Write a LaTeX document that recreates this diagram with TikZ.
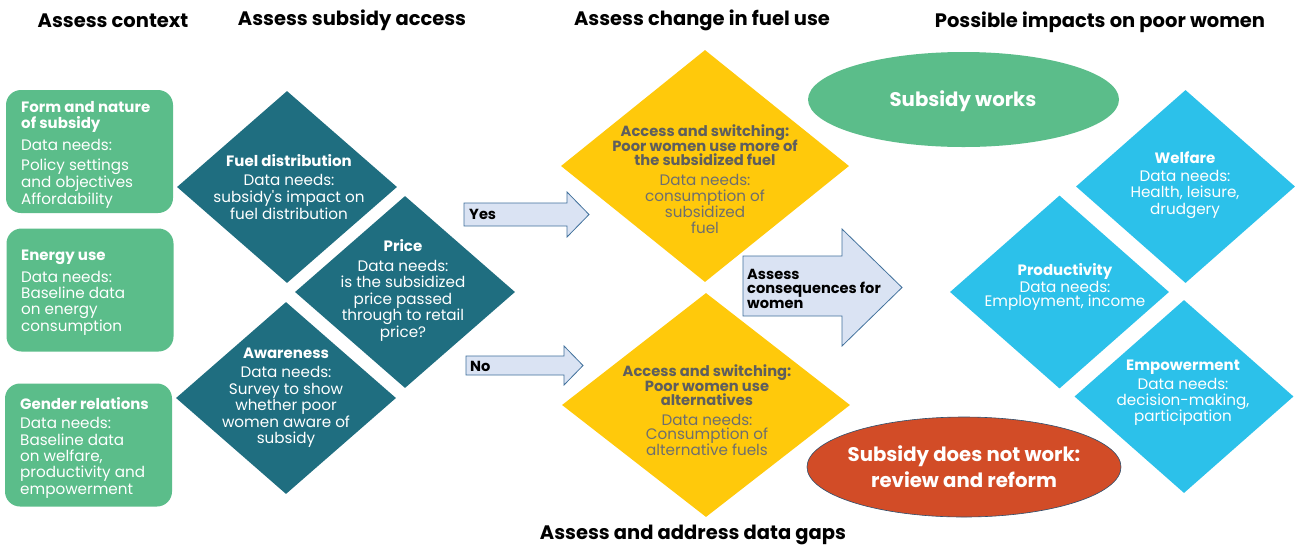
\documentclass[tikz,border=0pt]{standalone}
\usepackage{fontspec}
\setmainfont{Poppins}[Ligatures=TeXOff]
\usetikzlibrary{shapes.geometric}
\definecolor{ctxgreen}{HTML}{5BBD8A}
\definecolor{accteal}{HTML}{1F6E80}
\definecolor{fuelyellow}{HTML}{FFC90B}
\definecolor{impactblue}{HTML}{2CC1EA}
\definecolor{failred}{HTML}{D24C27}
\definecolor{arrowfill}{HTML}{DAE3F3}
\definecolor{arrowline}{HTML}{41719C}
\definecolor{darkgrey}{HTML}{5E5E5E}
\definecolor{midgrey}{HTML}{6E6E6E}
\tikzset{
  heading/.style={font=\bfseries\fontsize{19.5}{22}\selectfont, text=black, inner sep=0},
  ctxbox/.style={fill=ctxgreen, rounded corners=15pt, minimum width=167pt, minimum height=123pt, inner sep=0},
  ctxtext/.style={anchor=west, align=left, text=white, inner sep=0, font=\fontsize{15.2}{17}\selectfont},
  gem/.style={diamond, inner sep=0, minimum width=#1},
  tealgem/.style={gem=220pt, minimum height=192pt, fill=accteal},
  yellowgem/.style={gem=288pt, fill=fuelyellow},
  bluegem/.style={gem=219pt, minimum height=193pt, fill=impactblue},
  gemtext/.style={align=center, inner sep=0, text=white, font=\fontsize{15.2}{16.5}\selectfont},
  fueltext/.style={align=center, inner sep=0, text=midgrey, font=\fontsize{15.2}{16}\selectfont},
  blockarrow/.style={fill=arrowfill, draw=arrowline, line width=0.8pt, line join=miter},
  arrowtext/.style={anchor=west, align=left, inner sep=0, text=black, font=\bfseries\fontsize{14.6}{14.5}\selectfont},
  outcome/.style={ellipse, inner sep=0},
  outcometext/.style={inner sep=0, text=white, align=center, font=\bfseries\fontsize{19.7}{26}\selectfont},
}
\newcommand{\hd}[1]{{\bfseries\fontsize{15}{16.5}\selectfont #1}}
\newcommand{\fuelhd}[1]{{\color{darkgrey}\bfseries\fontsize{14.7}{14.5}\selectfont #1}}
\begin{document}
\begin{tikzpicture}[x=1pt,y=-1pt]
\useasboundingbox (0,0) rectangle (1295,550);
\fill[white] (0,0) rectangle (1295,550);

% column headings
\node[heading] (h1) at (113,21) {Assess context};
\node[heading] (h2) at (352,20) {Assess subsidy access};
\node[heading] (h3) at (702,20) {Assess change in fuel use};
\node[heading] (h4) at (1100,22) {Possible impacts on poor women};
\node[heading] (h5) at (693,535) {Assess and address data gaps};

% context boxes
\node[ctxbox] (c1) at (89.5,151.5) {};
\node[ctxbox] (c2) at (90,290) {};
\node[ctxbox] (c3) at (88.5,445) {};
\node[ctxtext] (c1t) at (21,154.5) {\hd{Form and nature}\\[-1pt]\hd{of subsidy}\\[5pt]Data needs:\\[3pt]Policy settings\\and objectives\\Affordability};
\node[ctxtext] (c2t) at (21,293) {\hd{Energy use}\\[5pt]Data needs:\\[-1pt]Baseline data\\[-1pt]on energy\\consumption};
\node[ctxtext] (c3t) at (20,447.5) {\hd{Gender relations}\\[2pt]Data needs:\\Baseline data\\[-1pt]on welfare,\\[-1pt]productivity and\\empowerment};

% subsidy access diamonds
\node[tealgem] (fd) at (287,187) {};
\node[tealgem] (pr) at (405,292) {};
\node[tealgem] (aw) at (286,398) {};
\node[gemtext] (fdt) at (289,187) {\hd{Fuel distribution}\\[3pt]Data needs:\\[0.5pt]subsidy's impact on\\[0.5pt]fuel distribution};
\node[gemtext] (prt) at (403,290.5) {\hd{Price}\\[3pt]Data needs:\\is the subsidized\\price passed\\through to retail\\price?};
\node[gemtext] (awt) at (286,397.5) {\hd{Awareness}\\[3pt]Data needs:\\Survey to show\\whether poor\\women aware of\\subsidy};

% fuel use diamonds
\node[yellowgem, minimum height=232pt] (up) at (705,166) {};
\node[yellowgem, minimum height=224pt] (dn) at (706,405) {};
\node[fueltext] (upt) at (705,179) {\fuelhd{Access and switching:}\\[-1.5pt]\fuelhd{Poor women use more of}\\[-1.5pt]\fuelhd{the subsidized fuel}\\[3.5pt]Data needs:\\consumption of\\subsidized\\fuel};
\node[fueltext] (dnt) at (707,410) {\fuelhd{Access and switching:}\\[-1.5pt]\fuelhd{Poor women use}\\[-1.5pt]\fuelhd{alternatives}\\[3.5pt]Data needs:\\[-2pt]Consumption of\\alternative fuels};

% block arrows
\draw[blockarrow] (464,203) -- (567,203) -- (567,192) -- (589,214.5) -- (567,237) -- (567,226) -- (464,226) -- cycle;
\node[arrowtext] (yes) at (469,214) {Yes};
\draw[blockarrow] (466,356) -- (564,356) -- (564,346) -- (583,365.5) -- (564,385) -- (564,375) -- (466,375) -- cycle;
\node[arrowtext] (no) at (470,366) {No};
\draw[blockarrow] (743,256) -- (842,256) -- (842,229) -- (902,287.5) -- (842,346) -- (842,316) -- (743,316) -- cycle;
\node[arrowtext] (cons) at (747,288.5) {Assess\\consequences for\\women};

% outcomes
\node[outcome, fill=ctxgreen, minimum width=311pt, minimum height=95pt] (works) at (963.5,99.5) {};
\node[outcometext, anchor=base] (workst) at (963,106.5) {Subsidy works};
\node[outcome, fill=failred, draw=arrowline!70!black, line width=0.6pt, minimum width=314pt, minimum height=100pt] (fails) at (964,467) {};
\node[outcometext] (failst) at (964,467) {Subsidy does not work:\\review and reform};

% impact diamonds
\node[bluegem] (wf) at (1185.5,186.5) {};
\node[bluegem] (pd) at (1059.5,292) {};
\node[bluegem] (em) at (1184,396.5) {};
\node[gemtext] (wft) at (1185,185) {\hd{Welfare}\\[1pt]Data needs:\\[-0.5pt]Health, leisure,\\[0.5pt]drudgery};
\node[gemtext] (pdt) at (1065,286.5) {\hd{Productivity}\\[0.5pt]Data needs:\\[-2.5pt]Employment, income};
\node[gemtext] (emt) at (1183,392.5) {\hd{Empowerment}\\[3pt]Data needs:\\[-0.5pt]decision-making,\\[-0.5pt]participation};
\end{tikzpicture}
\end{document}
